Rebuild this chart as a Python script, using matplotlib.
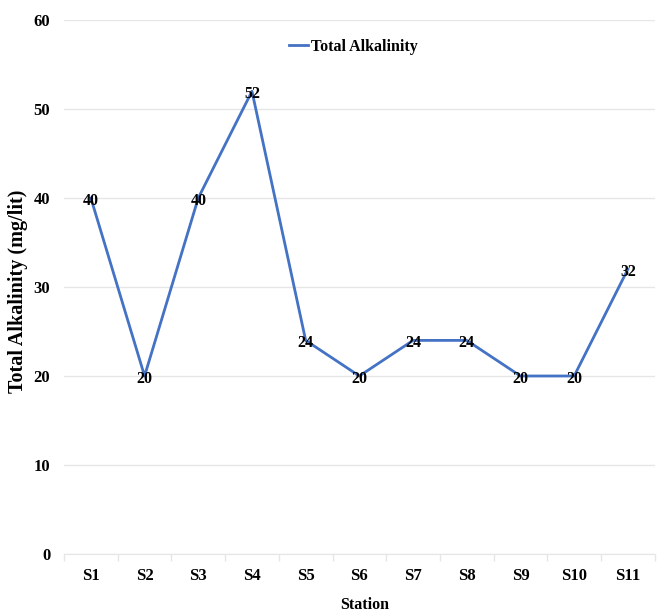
import matplotlib
matplotlib.use("Agg")
import matplotlib.pyplot as plt

stations = ["S1", "S2", "S3", "S4", "S5", "S6", "S7", "S8", "S9", "S10", "S11"]
alkalinity = [40, 20, 40, 52, 24, 20, 24, 24, 20, 20, 32]
y_ticks = [0, 10, 20, 30, 40, 50, 60]

FONT = "Liberation Serif"
line_color = "#4472C4"
grid_color = "#E6E6E6"

fig = plt.figure(figsize=(6.6, 6.13), dpi=100)
ax = fig.add_axes([0.097, 0.0963, 0.895, 0.871])

x = list(range(1, len(stations) + 1))
ax.plot(x, alkalinity, color=line_color, linewidth=2, label="Total Alkalinity", zorder=3)

for xi, v in zip(x, alkalinity):
    ax.annotate(f"{v}", (xi, v), xytext=(0, -2), textcoords="offset points",
                ha="center", va="center", fontsize=11.5,
                fontweight="bold", family=FONT, zorder=4)

ax.set_xlim(0.5, len(stations) + 0.5)
ax.set_ylim(0, 60)
ax.set_yticks(y_ticks)
ax.set_yticklabels([str(t) for t in y_ticks], family=FONT, fontweight="bold", fontsize=12)
ax.set_xticks(x)
ax.set_xticklabels(stations, family=FONT, fontweight="bold", fontsize=12)
ax.tick_params(axis="x", length=0, pad=10)
ax.tick_params(axis="y", length=0, pad=10)

# category boundary ticks along the baseline
ax.set_xticks([i + 0.5 for i in range(0, len(stations) + 1)], minor=True)
ax.tick_params(axis="x", which="minor", length=5, color=grid_color, width=1)

ax.grid(axis="y", color=grid_color, linewidth=1, zorder=0)
ax.set_axisbelow(True)
for side in ["top", "right", "left"]:
    ax.spines[side].set_visible(False)
ax.spines["bottom"].set_color(grid_color)

fig.text(0.027, 0.525, "Total Alkalinity (mg/lit)", rotation=90, ha="center", va="center",
         family=FONT, fontweight="bold", fontsize=14.5)
fig.text(0.553, 0.013, "Station", ha="center", va="center",
         family=FONT, fontweight="bold", fontsize=11.5)

leg = ax.legend(loc="center", bbox_to_anchor=(0.49, 0.95), frameon=False,
                prop={"family": FONT, "weight": "bold", "size": 11.5},
                handlelength=1.2, handletextpad=0.2)

fig.savefig("out.png", dpi=100)
